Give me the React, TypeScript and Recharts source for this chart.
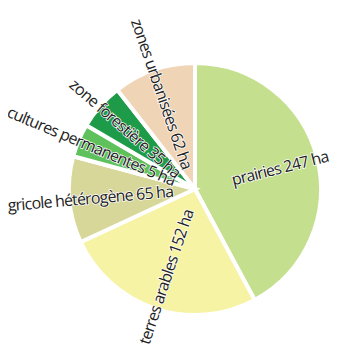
import { PieChart, Pie, Cell } from 'recharts'

// ─── données ─────────────────────────────────────────────────────────────────
const categories = [
  'prairies',
  'terres arables',
  'zone agricole hétérogène',
  'cultures permanentes',
  'zone forestière',
  'zones urbanisées',
]
// surfaces affichées dans les étiquettes
const labelHa = [247, 152, 65, 5, 35, 62]
// taille relative des parts telle que dessinée (la part "cultures permanentes" est plus large que 5 ha)
const sliceValues = [247, 152, 65, 25, 35, 62]
const colors = ['#c4e08f', '#f7f3a4', '#d8d79a', '#5ec15c', '#1e9b48', '#f0d4b6']

const data = categories.map((name, i) => ({
  name,
  value: sliceValues[i],
  label: `${name} ${labelHa[i]} ha`,
}))

const RAD = Math.PI / 180

// étiquette radiale : lue vers le centre à gauche, vers l'extérieur à droite
function RadialLabel(props: any) {
  const { cx, cy, midAngle, index } = props
  const a = ((midAngle % 360) + 360) % 360
  const left = a > 90 && a < 270
  const r = left ? 22 : 38
  const x = cx + r * Math.cos(-midAngle * RAD)
  const y = cy + r * Math.sin(-midAngle * RAD)
  const rot = left ? -midAngle + 180 : -midAngle
  return (
    <text
      x={x}
      y={y}
      fill="#222"
      stroke="#fff"
      strokeWidth={1.5}
      paintOrder="stroke"
      fontSize={16}
      fontFamily="'Open Sans', sans-serif"
      letterSpacing={-0.8}
      textAnchor={left ? 'end' : 'start'}
      dominantBaseline="central"
      transform={`rotate(${rot} ${x} ${y})`}
    >
      {data[index].label}
    </text>
  )
}

export default function App() {
  return (
    <div style={{ margin: '-8px 0 0 -8px', width: 342, height: 350, background: '#fff' }}>
      <PieChart width={342} height={350}>
        <Pie
          data={data}
          dataKey="value"
          cx={190}
          cy={184}
          outerRadius={126}
          startAngle={90}
          endAngle={-270}
          stroke="#fff"
          strokeWidth={4}
          labelLine={false}
          label={RadialLabel}
          isAnimationActive={false}
        >
          {data.map((d, i) => (
            <Cell key={i} fill={colors[i]} />
          ))}
        </Pie>
      </PieChart>
    </div>
  )
}
